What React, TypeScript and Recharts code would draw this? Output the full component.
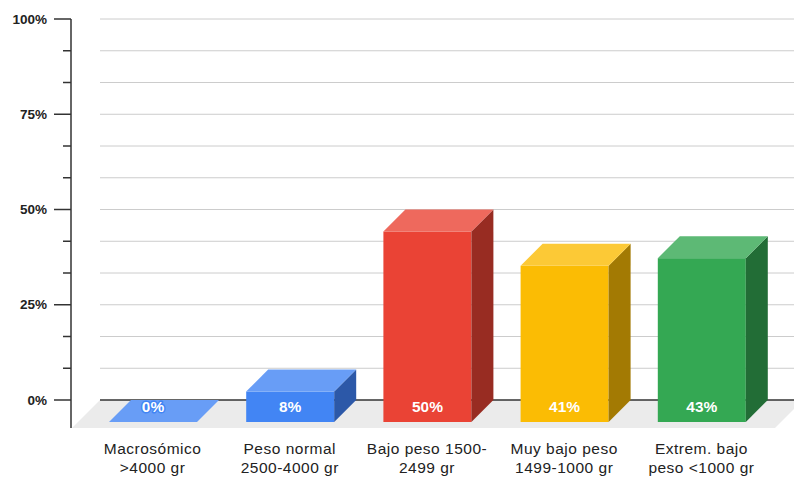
import { BarChart, Bar, XAxis, YAxis, CartesianGrid } from "recharts"

const categories = [
  "Macrosómico\n>4000 gr",
  "Peso normal\n2500-4000 gr",
  "Bajo peso 1500-\n2499 gr",
  "Muy bajo peso\n1499-1000 gr",
  "Extrem. bajo\npeso <1000 gr",
]
const percentages = [0, 8, 50, 41, 43]

// front / top / side shades of each column
const faceColors = ["#4285F4", "#4285F4", "#EA4335", "#FBBC04", "#34A853"]
const topColors = ["#689DF6", "#689DF6", "#EE695D", "#FCC936", "#5DB975"]
const sideColors = ["#2C58A8", "#2C58A8", "#982C22", "#A37A03", "#226D36"]

const majorTicks = [0, 25, 50, 75, 100]
const yTicks = Array.from({ length: 13 }, (_, i) => (i * 25) / 3)

const data = categories.map((name, i) => ({ name, value: percentages[i] }))

const DEPTH = 22 // 3d offset of the column faces
const FLOOR = 28 // depth of the floor slab
const FONT = "'Liberation Sans', Arial, sans-serif"

const renderBlock = (p: any) => {
  const { x, y, width, height, index } = p
  const fx = x - DEPTH
  const fy = y + DEPTH
  const v = percentages[index]
  const top = `${fx},${fy} ${x},${y} ${x + width},${y} ${fx + width},${fy}`
  const side = `${fx + width},${fy} ${x + width},${y} ${x + width},${y + height} ${fx + width},${fy + height}`
  return (
    <g>
      {height > 0 && <rect x={fx} y={fy} width={width} height={height} fill={faceColors[index]} />}
      {height > 0 && <polygon points={side} fill={sideColors[index]} />}
      <polygon points={top} fill={topColors[index]} />
      <text
        x={fx + width / 2}
        y={fy + height - 10.5}
        textAnchor="middle"
        fontFamily={FONT}
        fontWeight="bold"
        fontSize={15.5}
        fill="#fff"
        stroke={faceColors[index]}
        strokeWidth={3}
        strokeLinejoin="round"
        paintOrder="stroke"
      >
        {v}%
      </text>
    </g>
  )
}

const renderGridLine = (p: any) => {
  const isBase = Math.abs(p.y1 - (p.y + p.height)) < 0.5
  if (isBase) {
    const floor = `${p.x1 + FLOOR + 1},${p.y1} ${p.x2 + FLOOR - 19},${p.y1} ${p.x2 - 19},${p.y1 + FLOOR} ${p.x1 + 1},${p.y1 + FLOOR}`
    return (
      <g key={p.key}>
        <polygon points={floor} fill="#ebebeb" />
        <line x1={p.x1 + FLOOR + 1} y1={p.y1} x2={p.x2} y2={p.y1} stroke="#333" strokeWidth={1.5} />
        <line x1={p.x1} y1={p.y1} x2={p.x1} y2={p.y1 + FLOOR} stroke="#333" strokeWidth={1.5} />
      </g>
    )
  }
  return <line key={p.key} x1={p.x1 + FLOOR + 1} y1={p.y1} x2={p.x2} y2={p.y2} stroke="#cccccc" strokeWidth={1} />
}

const renderYTick = (p: any) => {
  const v = p.payload.value
  const major = majorTicks.some((t) => Math.abs(t - v) < 0.01)
  return (
    <g>
      <line x1={p.x - (major ? 17 : 8)} y1={p.y} x2={p.x} y2={p.y} stroke="#333" strokeWidth={1.5} />
      {major && (
        <text x={p.x - 24} y={p.y + 4.5} textAnchor="end" fontFamily={FONT} fontWeight="bold" fontSize={13.5} fill="#222">
          {Math.round(v)}%
        </text>
      )}
    </g>
  )
}

const renderXTick = (p: any) => {
  const lines = String(p.payload.value).split("\n")
  const cx = p.x - DEPTH
  return (
    <text textAnchor="middle" fontFamily={FONT} fontSize={15.5} letterSpacing={0.5} fill="#222">
      {lines.map((l, i) => (
        <tspan key={i} x={cx} y={p.y + 53.5 + i * 19.5}>
          {l}
        </tspan>
      ))}
    </text>
  )
}

export default function App() {
  return (
    <div style={{ position: "absolute", left: 0, top: 0, background: "#fff" }}>
      <BarChart width={794} height={478} data={data} margin={{ top: 19, right: 0, bottom: 0, left: 0 }}>
        <CartesianGrid vertical={false} horizontal={renderGridLine} />
        <XAxis
          dataKey="name"
          axisLine={false}
          tickLine={false}
          tickSize={0}
          tickMargin={0}
          height={78}
          interval={0}
          padding={{ left: 35, right: 2 }}
          tick={renderXTick}
        />
        <YAxis
          domain={[0, 100]}
          ticks={yTicks}
          interval={0}
          width={71}
          tickSize={0}
          tickMargin={0}
          tickLine={false}
          axisLine={{ stroke: "#333", strokeWidth: 1.5 }}
          tick={renderYTick}
        />
        <Bar dataKey="value" barSize={88} shape={renderBlock} isAnimationActive={false} />
      </BarChart>
    </div>
  )
}
